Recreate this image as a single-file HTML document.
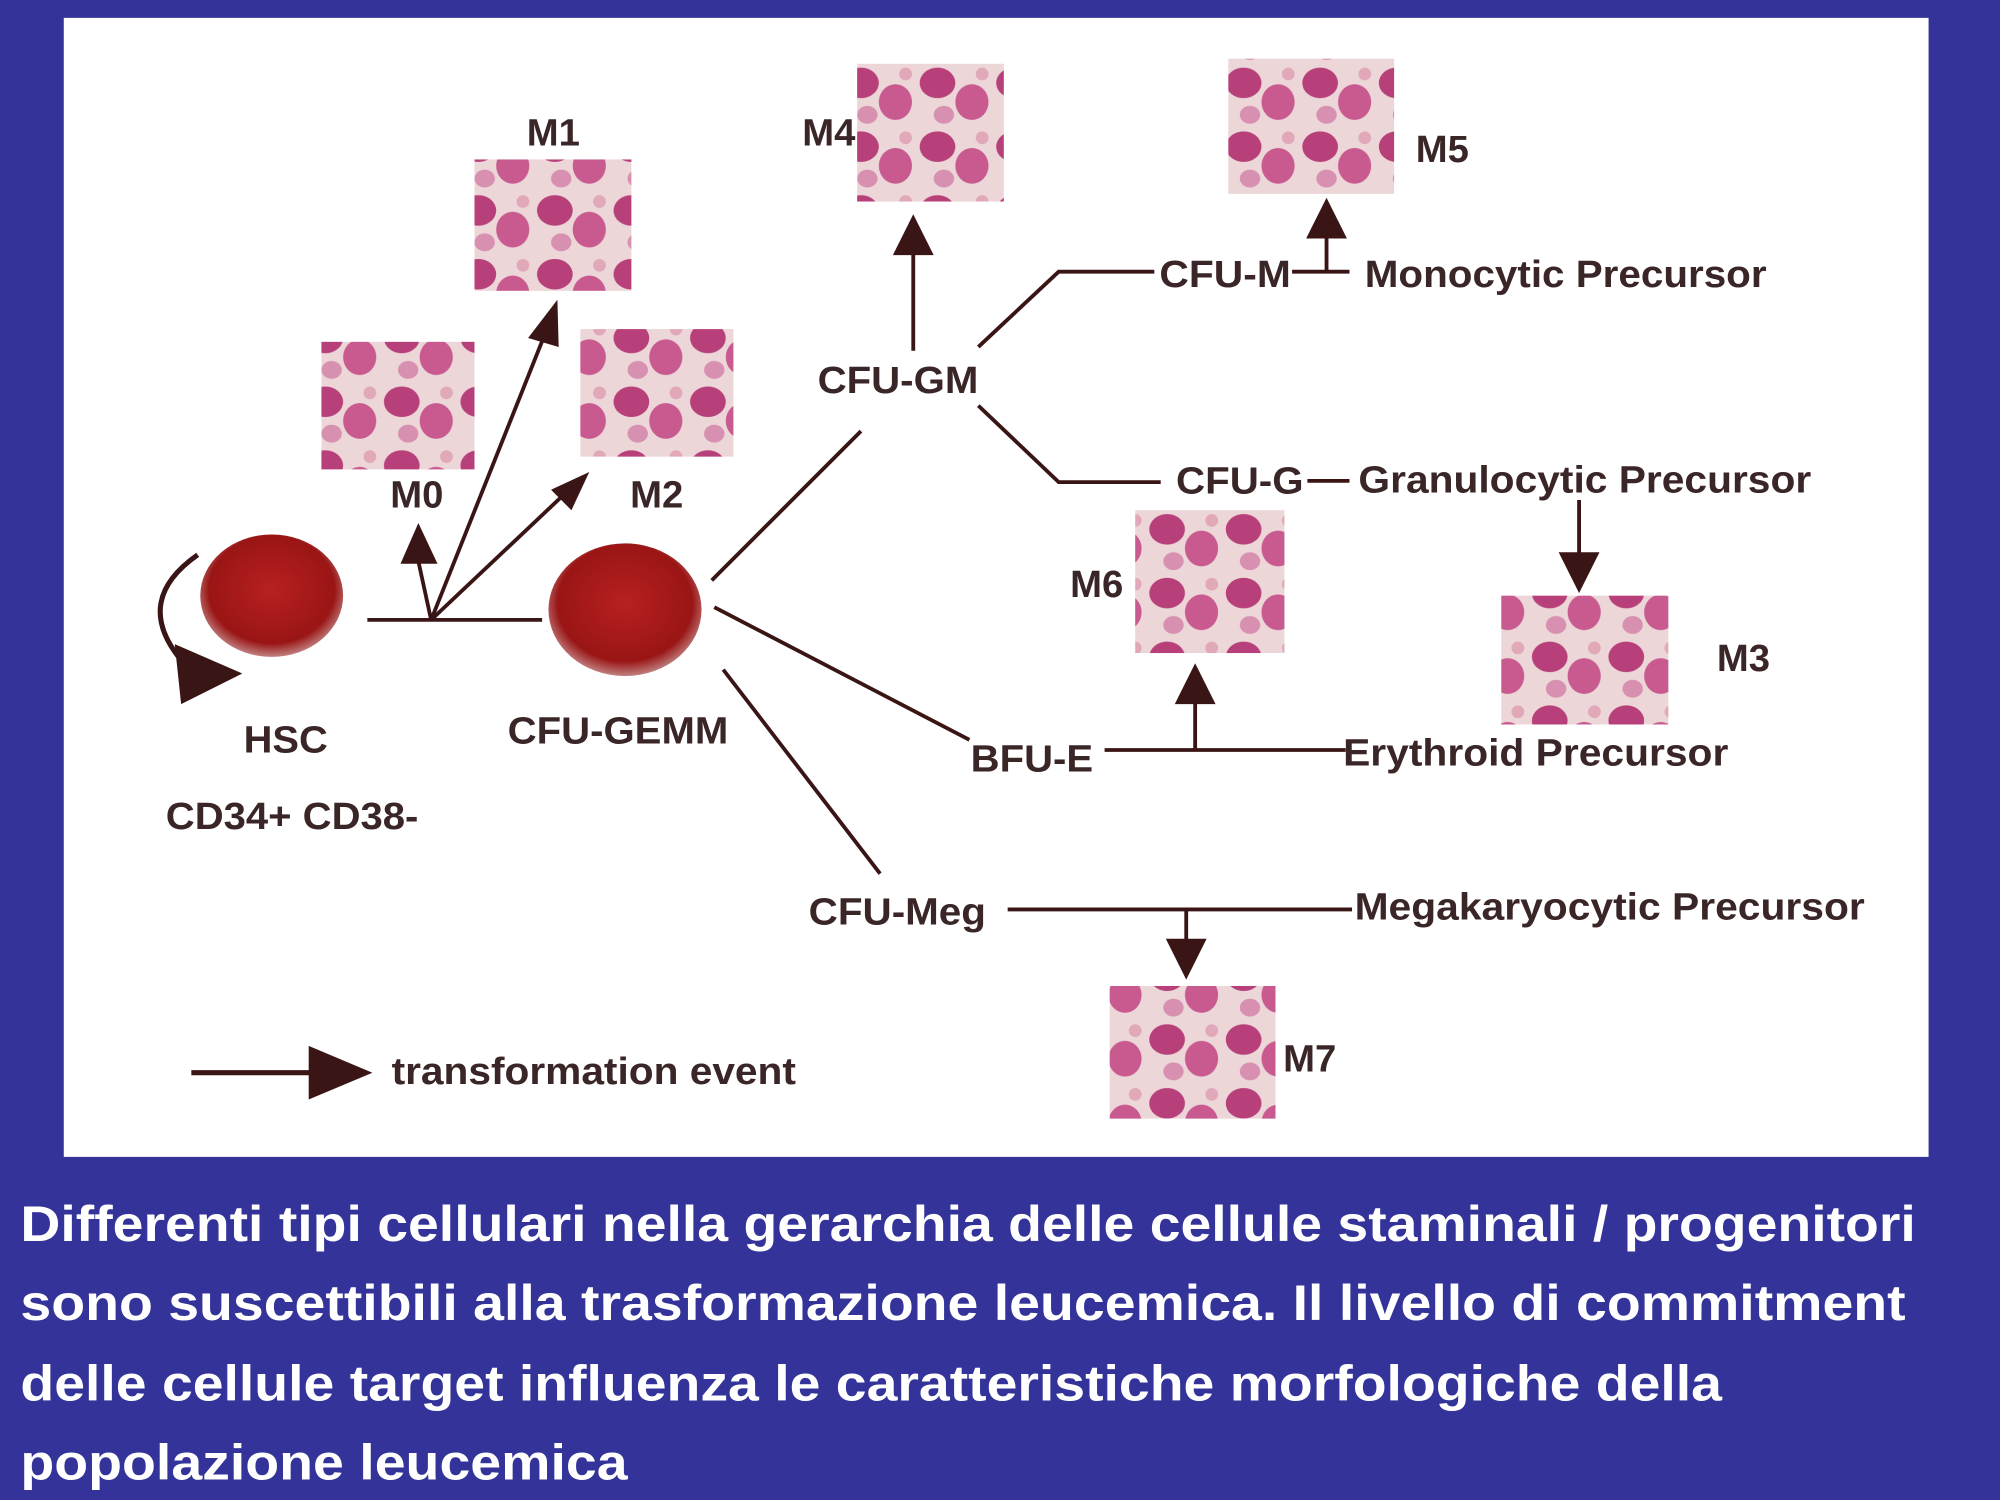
<!DOCTYPE html>
<html><head><meta charset="utf-8"><style>
html,body{margin:0;padding:0;background:#333399;}
svg{display:block}
text{font-family:"Liberation Sans",sans-serif;font-weight:bold;}
</style></head><body>
<svg width="2000" height="1500" viewBox="0 0 1568 1176" xmlns="http://www.w3.org/2000/svg">
<defs>
<radialGradient id="cell" cx="50%" cy="45%" r="55%"><stop offset="0" stop-color="#b82020"/><stop offset="0.8" stop-color="#9a1515"/><stop offset="1" stop-color="#c08080"/></radialGradient>
<pattern id="smear" width="60" height="50" patternUnits="userSpaceOnUse">
<rect width="60" height="50" fill="#ecd6d8"/>
<ellipse cx="15" cy="15" rx="14" ry="12" fill="#b8407a"/>
<ellipse cx="42" cy="30" rx="13" ry="14" fill="#c85a90"/>
<ellipse cx="20" cy="40" rx="8" ry="7" fill="#d890b0"/>
<circle cx="50" cy="8" r="5" fill="#e0a8b8"/>
</pattern>
</defs>
<rect x="0" y="0" width="1568" height="1176" fill="#333399"/>
<rect x="50" y="14" width="1462" height="893" fill="#ffffff"/>
<g fill="url(#smear)">
<rect x="252" y="268" width="120" height="100"/>
<rect x="372" y="125" width="123" height="103"/>
<rect x="455" y="258" width="120" height="100"/>
<rect x="672" y="50" width="115" height="108"/>
<rect x="963" y="46" width="130" height="106"/>
<rect x="890" y="400" width="117" height="112"/>
<rect x="1177" y="467" width="131" height="101"/>
<rect x="870" y="773" width="130" height="104"/>
</g>
<ellipse cx="213" cy="467" rx="56" ry="48" fill="url(#cell)"/>
<ellipse cx="490" cy="478" rx="60" ry="52" fill="url(#cell)"/>
<g stroke="#3a1515" stroke-width="3" fill="none">
<path d="M155,435 Q105,470 140,515" stroke-width="4"/>
<line x1="288" y1="486" x2="425" y2="486"/>
<line x1="338" y1="486" x2="328" y2="440"/>
<line x1="338" y1="486" x2="428" y2="260"/>
<line x1="338" y1="486" x2="445" y2="385"/>
<line x1="558" y1="455" x2="675" y2="338"/>
<line x1="560" y1="476" x2="760" y2="580"/>
<line x1="567" y1="525" x2="690" y2="685"/>
<line x1="716" y1="275" x2="716" y2="195"/>
<polyline points="767,272 830,213 905,213"/>
<polyline points="767,318 830,378 910,378"/>
<line x1="1013" y1="213" x2="1058" y2="213"/>
<line x1="1040" y1="213" x2="1040" y2="185"/>
<line x1="1025" y1="377" x2="1058" y2="377"/>
<line x1="1238" y1="392" x2="1238" y2="435"/>
<line x1="866" y1="588" x2="1055" y2="588"/>
<line x1="937" y1="588" x2="937" y2="550"/>
<line x1="790" y1="713" x2="1060" y2="713"/>
<line x1="930" y1="713" x2="930" y2="740"/>
<line x1="150" y1="841" x2="245" y2="841" stroke-width="4"/>
</g>
<g fill="#3a1515">
<path d="M137,505 L190,528 L142,552z"/>
<path d="M328,410 L314,442 L343,442z"/>
<path d="M437,235 L414,265 L438,272z"/>
<path d="M462,370 L432,384 L448,400z"/>
<path d="M716,168 L700,200 L732,200z"/>
<path d="M1040,155 L1024,187 L1056,187z"/>
<path d="M1238,465 L1222,433 L1254,433z"/>
<path d="M937,520 L921,552 L953,552z"/>
<path d="M930,768 L914,736 L946,736z"/>
<path d="M292,841 L242,820 L242,862z"/>
</g>
<g fill="#3a2626" font-size="30">
<text x="413" y="114">M1</text>
<text x="306" y="398">M0</text>
<text x="494" y="398">M2</text>
<text x="629" y="114">M4</text>
<text x="1110" y="127">M5</text>
<text x="839" y="468">M6</text>
<text x="1346" y="526">M3</text>
<text x="1006" y="840">M7</text>
<text x="191" y="590" textLength="66" lengthAdjust="spacingAndGlyphs">HSC</text>
<text x="130" y="650" textLength="198" lengthAdjust="spacingAndGlyphs">CD34+ CD38-</text>
<text x="398" y="583" textLength="173" lengthAdjust="spacingAndGlyphs">CFU-GEMM</text>
<text x="641" y="308" textLength="126" lengthAdjust="spacingAndGlyphs">CFU-GM</text>
<text x="909" y="225" textLength="103" lengthAdjust="spacingAndGlyphs">CFU-M</text>
<text x="1070" y="225" textLength="315" lengthAdjust="spacingAndGlyphs">Monocytic Precursor</text>
<text x="922" y="387" textLength="100" lengthAdjust="spacingAndGlyphs">CFU-G</text>
<text x="1065" y="386" textLength="355" lengthAdjust="spacingAndGlyphs">Granulocytic Precursor</text>
<text x="761" y="605" textLength="96" lengthAdjust="spacingAndGlyphs">BFU-E</text>
<text x="1053" y="600" textLength="302" lengthAdjust="spacingAndGlyphs">Erythroid Precursor</text>
<text x="634" y="725" textLength="139" lengthAdjust="spacingAndGlyphs">CFU-Meg</text>
<text x="1062" y="721" textLength="400" lengthAdjust="spacingAndGlyphs">Megakaryocytic Precursor</text>
<text x="307" y="850" textLength="317" lengthAdjust="spacingAndGlyphs">transformation event</text>
</g>
<g fill="#ffffff" font-size="39">
<text x="16" y="973" textLength="1486" lengthAdjust="spacingAndGlyphs">Differenti tipi cellulari nella gerarchia delle cellule staminali / progenitori</text>
<text x="16" y="1035" textLength="1478" lengthAdjust="spacingAndGlyphs">sono suscettibili alla trasformazione leucemica. Il livello di commitment</text>
<text x="16" y="1098" textLength="1334" lengthAdjust="spacingAndGlyphs">delle cellule target influenza le caratteristiche morfologiche della</text>
<text x="16" y="1160" textLength="476" lengthAdjust="spacingAndGlyphs">popolazione leucemica</text>
</g>
</svg>
</body></html>
